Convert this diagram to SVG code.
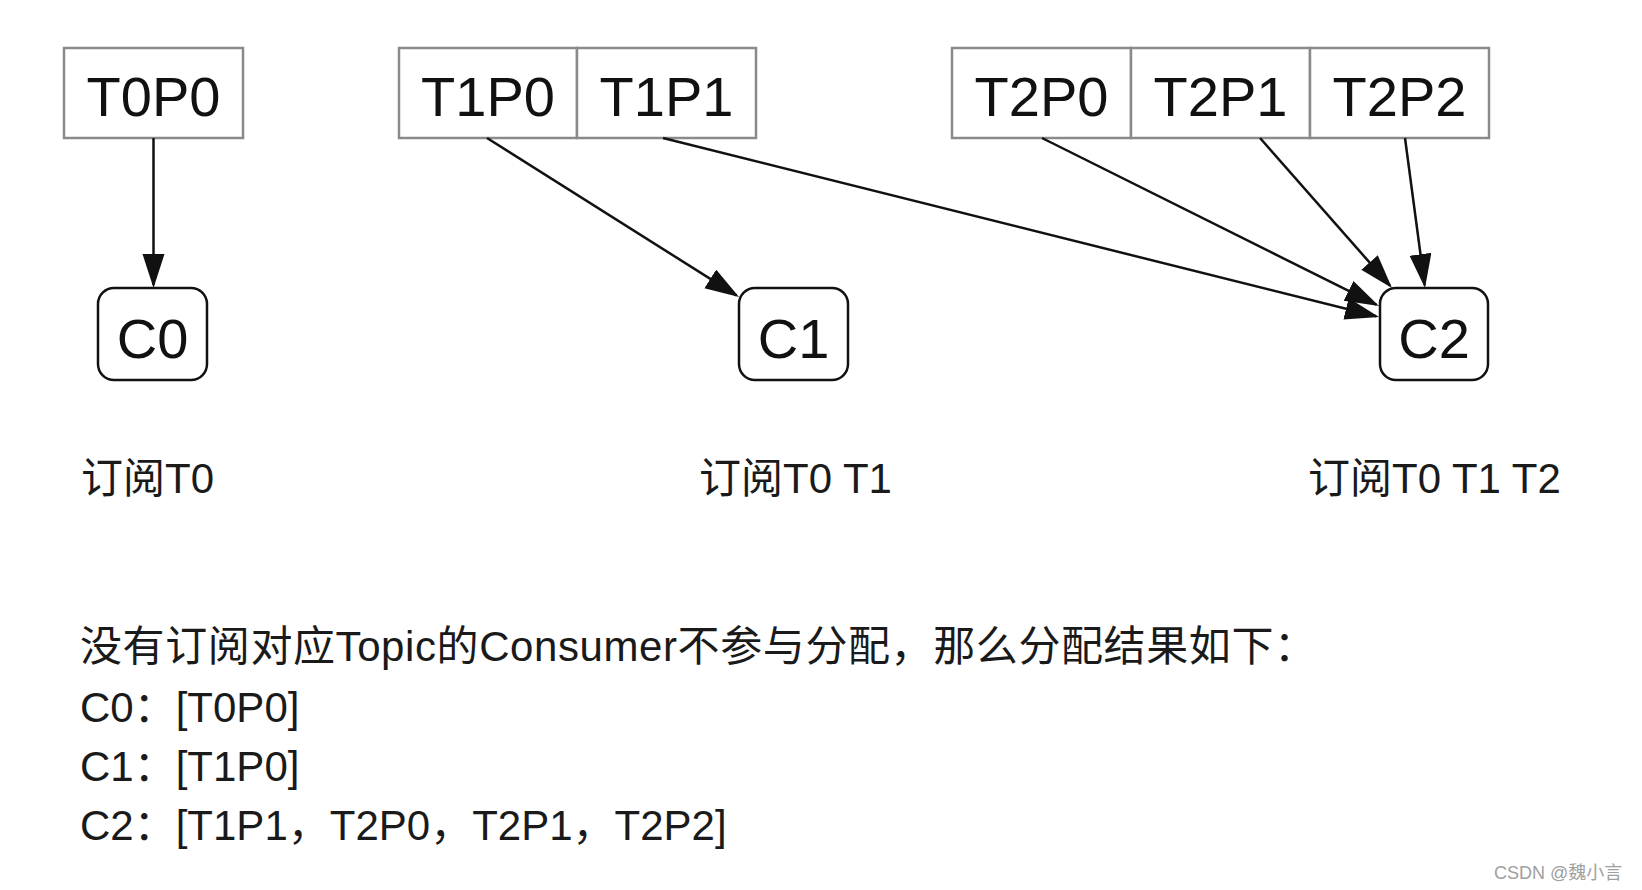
<svg xmlns="http://www.w3.org/2000/svg" width="1642" height="890" viewBox="0 0 1642 890">
<style>
.part{fill:#fff;stroke:#8a8a8a;stroke-width:2.5}
.cons{fill:#fff;stroke:#111;stroke-width:2.5}
.big{font-family:"Liberation Sans","Noto Sans CJK SC",sans-serif;font-size:56px;fill:#111;text-anchor:middle}
.txt{font-family:"Liberation Sans","Noto Sans CJK SC",sans-serif;font-size:42px;fill:#1a1a1a}
.wm{font-family:"Liberation Sans","Noto Sans CJK SC",sans-serif;font-size:18px;fill:#a0a0a0}
.edge{stroke:#111;stroke-width:2.5;fill:none;marker-end:url(#arr)}
</style>
<defs>
<marker id="arr" markerUnits="userSpaceOnUse" markerWidth="36" markerHeight="24" refX="31" refY="11" orient="auto">
<path d="M0,0 L34,11 L0,22 z" fill="#111"/>
</marker>
</defs>
<rect width="1642" height="890" fill="#fff"/>
<g id="T0P0"><rect class="part" x="64" y="48" width="179" height="90"/><text class="big" x="153.5" y="116">T0P0</text></g>
<g id="T1P0"><rect class="part" x="399" y="48" width="178" height="90"/><text class="big" x="488" y="116">T1P0</text></g>
<g id="T1P1"><rect class="part" x="577" y="48" width="179" height="90"/><text class="big" x="666.5" y="116">T1P1</text></g>
<g id="T2P0"><rect class="part" x="952" y="48" width="179" height="90"/><text class="big" x="1041.5" y="116">T2P0</text></g>
<g id="T2P1"><rect class="part" x="1131" y="48" width="179" height="90"/><text class="big" x="1220.5" y="116">T2P1</text></g>
<g id="T2P2"><rect class="part" x="1310" y="48" width="179" height="90"/><text class="big" x="1399.5" y="116">T2P2</text></g>
<g id="C0"><rect class="cons" x="98" y="288" width="109" height="92" rx="16"/><text class="big" x="152.5" y="358">C0</text></g>
<g id="C1"><rect class="cons" x="739" y="288" width="109" height="92" rx="16"/><text class="big" x="793.5" y="358">C1</text></g>
<g id="C2"><rect class="cons" x="1380" y="288" width="108" height="92" rx="16"/><text class="big" x="1434" y="358">C2</text></g>
<g id="connectors">
<line class="edge" x1="153.5" y1="138" x2="153.5" y2="285"/>
<line class="edge" x1="487" y1="138" x2="736.5" y2="295.4"/>
<line class="edge" x1="663" y1="138" x2="1376.1" y2="316.3"/>
<line class="edge" x1="1042" y1="138" x2="1376.3" y2="304.7"/>
<line class="edge" x1="1260" y1="138" x2="1390" y2="285.7"/>
<line class="edge" x1="1405" y1="138" x2="1424.6" y2="285"/>
</g>
<g id="labels">
<text class="txt" x="81" y="493">订阅T0</text>
<text class="txt" x="699" y="493">订阅T0 T1</text>
<text class="txt" x="1308" y="493">订阅T0 T1 T2</text>
<text class="txt" x="80" y="661" textLength="1236" lengthAdjust="spacing">没有订阅对应Topic的Consumer不参与分配，那么分配结果如下：</text>
<text class="txt" x="80" y="722">C0：[T0P0]</text>
<text class="txt" x="80" y="781">C1：[T1P0]</text>
<text class="txt" x="80" y="840">C2：[T1P1，T2P0，T2P1，T2P2]</text>
<text class="wm" x="1494" y="879">CSDN @魏小言</text>
</g>
</svg>
